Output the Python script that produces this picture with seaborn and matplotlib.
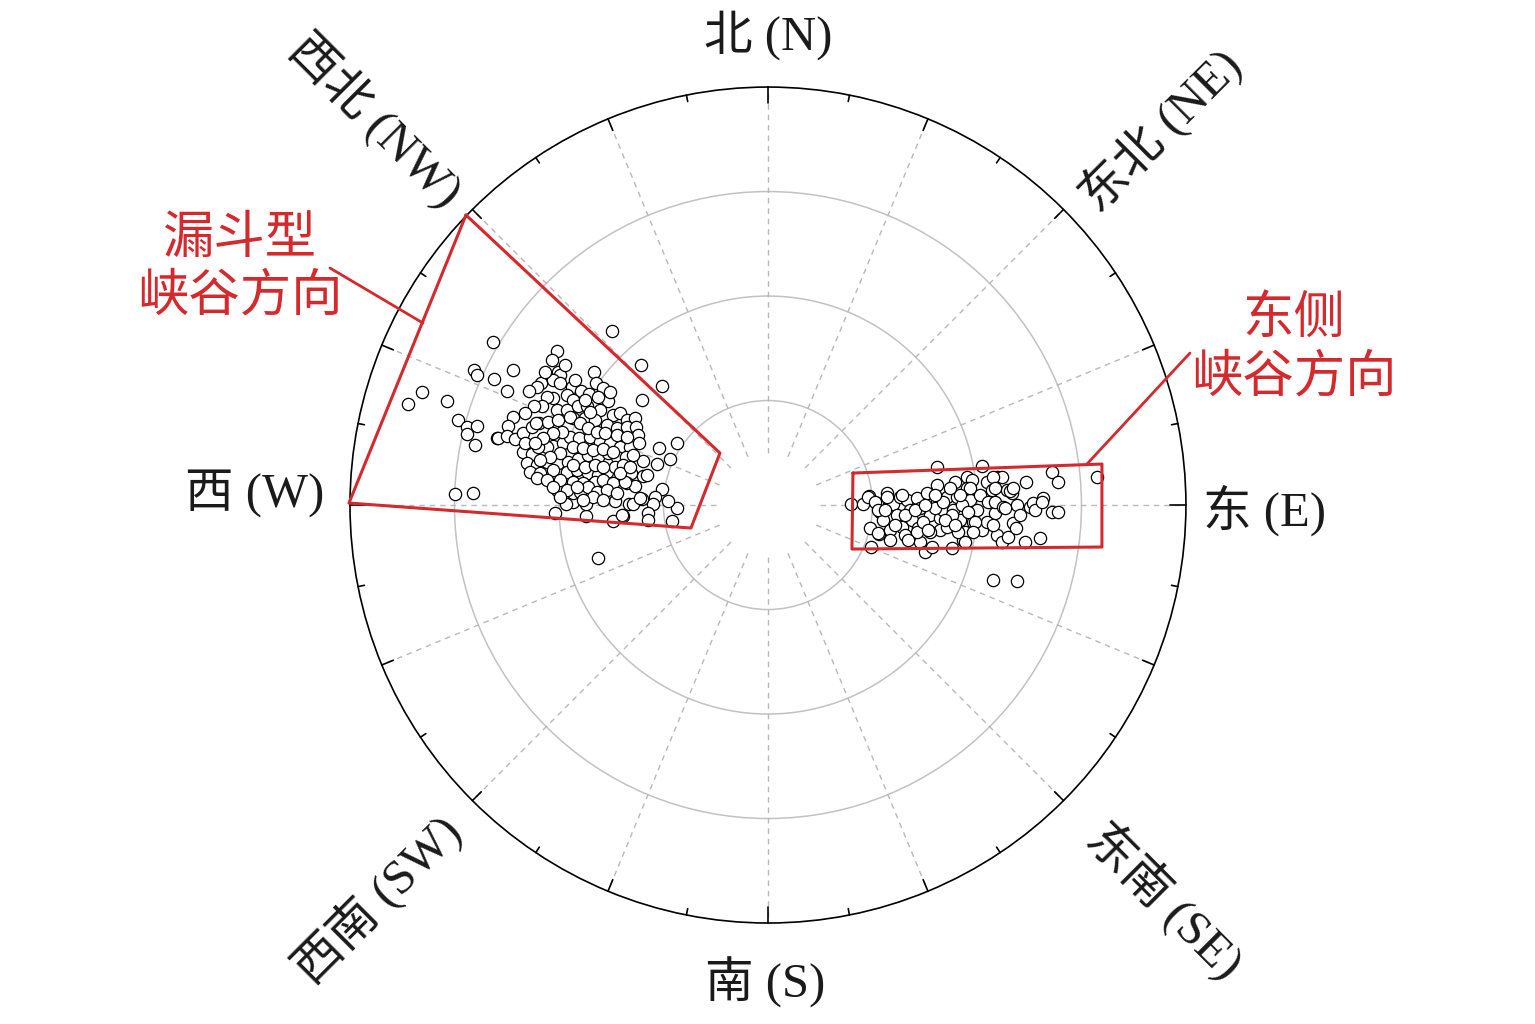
import numpy as np
import matplotlib
matplotlib.use("Agg")
import matplotlib.pyplot as plt
import seaborn as sns

# east / north offsets of each event, outer circle = R_MAX
R_MAX = 41.8

west_pts = [
    (-15.6, 17.4), (-27.5, 16.3), (-12.7, 14.0), (-10.6, 11.9), (-12.6, 10.5),
    (-34.6, 11.3), (-36.0, 10.1), (-32.1, 10.4), (-29.4, 13.5), (-29.1, 13.0),
    (-27.4, 12.6), (-25.5, 13.5), (-26.1, 11.4), (-31.0, 8.5), (-30.1, 7.8),
    (-30.1, 7.1), (-29.1, 7.9), (-29.3, 6.0), (-27.1, 6.7), (-31.3, 1.1),
    (-29.5, 1.2), (-9.1, 6.2), (-10.9, 5.7), (-9.8, 4.6), (-17.0, -5.3),
    (-9.1, -0.3), (-9.6, -1.6), (-10.0, 0.4), (-10.6, 1.6), (-11.3, 0.8),
    (-11.5, 0.1), (-12.0, -0.8), (-12.0, -1.5), (-14.5, -1.1), (-15.5, -1.6),
    (-18.2, -1.1), (-21.3, -0.8), (-18.2, 0.1), (-15.3, 0.4), (-13.9, 0.1),
    (-13.5, 0.1), (-12.6, 0.6), (-12.5, 2.9), (-12.1, 3.0), (-11.1, 4.1),
    (-12.5, 4.4), (-13.7, 3.2), (-14.4, 4.2), (-14.1, 2.2), (-13.3, 1.9),
    (-21.1, 1.5), (-19.5, 0.3), (-19.5, 1.2), (-20.2, 0.1), (-12.8, 0.7),
    (-14.6, -1.0),
    (-21.1, 15.4), (-21.6, 14.5), (-21.0, 13.3), (-20.8, 13.0), (-17.4, 13.3),
    (-22.7, 12.2), (-23.1, 11.8), (-23.9, 11.4), (-21.5, 12.5), (-20.8, 12.2),
    (-19.6, 11.8), (-18.7, 11.4), (-17.9, 11.1), (-17.2, 12.2), (-16.5, 11.7),
    (-16.0, 10.4), (-17.0, 10.8), (-20.1, 11.0), (-19.5, 10.5), (-21.5, 10.7),
    (-22.1, 10.8), (-22.6, 9.9), (-23.4, 9.9), (-24.3, 9.2), (-21.1, 9.5),
    (-20.1, 9.5), (-19.0, 9.9), (-18.1, 9.9), (-16.8, 9.5), (-15.5, 9.0),
    (-14.8, 9.2), (-14.1, 8.5), (-13.3, 8.7), (-25.5, 8.8), (-26.0, 7.9),
    (-27.0, 6.7), (-26.1, 6.9), (-25.3, 6.6), (-24.5, 7.2), (-23.6, 7.8),
    (-22.9, 8.2), (-22.0, 8.3), (-21.0, 8.5), (-19.5, 8.7), (-18.3, 8.7),
    (-17.3, 8.5), (-16.1, 8.0), (-15.1, 7.7), (-14.1, 7.8), (-13.2, 7.8),
    (-24.5, 5.3), (-23.6, 5.1), (-22.5, 5.5), (-21.5, 5.9), (-20.5, 6.2),
    (-19.8, 6.8), (-18.9, 6.7), (-17.8, 6.8), (-16.8, 6.3), (-15.8, 6.2),
    (-14.8, 5.8), (-13.8, 5.8), (-13.0, 7.0), (-12.9, 6.2), (-24.1, 4.2),
    (-23.1, 4.0), (-22.1, 4.3), (-21.0, 4.2), (-20.0, 4.3), (-19.0, 4.6),
    (-18.0, 5.0), (-17.0, 4.8), (-16.0, 5.2), (-15.1, 4.8), (-14.2, 4.8),
    (-13.5, 5.0), (-23.8, 3.3), (-22.8, 3.2), (-21.5, 3.5), (-20.1, 3.3),
    (-19.1, 3.5), (-18.0, 3.2), (-17.0, 3.0), (-16.1, 3.3), (-15.3, 3.8),
    (-14.5, 4.0), (-23.1, 2.7), (-20.8, 2.5), (-19.5, 2.3), (-18.5, 2.2),
    (-17.3, 2.3), (-16.5, 2.5), (-15.5, 2.2), (-14.3, 2.3), (-20.1, 1.5),
    (-18.8, 1.3), (-18.0, 1.8), (-17.1, 1.3), (-16.1, 1.5), (-15.1, 1.2),
    (-23.2, 8.2), (-24.3, 6.2), (-22.3, 5.2), (-22.1, 5.8), (-23.0, 5.8),
    (-19.8, 8.8), (-18.8, 8.2), (-18.0, 7.7), (-17.1, 7.3), (-16.3, 7.2),
    (-15.1, 7.0), (-14.1, 6.8), (-20.6, 7.3), (-21.5, 7.2), (-22.5, 6.7),
    (-23.3, 6.2), (-19.5, 5.8), (-18.5, 5.7), (-17.5, 5.5), (-16.5, 5.6),
    (-15.5, 5.3), (-20.8, 5.2), (-21.8, 4.8), (-22.8, 4.5), (-19.5, 4.0),
    (-18.3, 3.8), (-17.3, 4.0), (-16.5, 3.8), (-14.8, 3.2), (-13.8, 3.8),
    (-22.1, 2.5), (-21.5, 1.8), (-19.1, 1.8), (-17.5, 0.8), (-16.5, 0.5),
    (-20.8, 0.8), (-18.5, 0.5), (-19.3, 12.5), (-18.3, 10.5), (-15.8, 11.3),
    (-20.3, 14.0), (-22.3, 13.3), (-17.8, 9.3),
]

east_pts = [
    (16.9, 3.8), (21.4, 3.9), (8.3, 0.1), (9.5, 0.1), (10.1, 0.9),
    (10.2, -2.3), (10.3, -4.2), (11.1, -2.9), (10.9, 0.2), (11.2, -0.7),
    (11.5, -1.5), (11.9, 1.2), (12.2, 0.3), (12.5, 0.1), (12.9, -1.0),
    (13.2, 0.8), (13.4, -2.2), (13.9, 0.5), (14.2, -0.5), (14.4, -1.5),
    (14.9, 0.7), (15.0, -2.3), (15.2, -3.7), (15.7, -4.7), (15.9, 1.2),
    (16.2, -1.0), (16.4, -4.2), (16.9, 2.0), (16.9, 0.3), (17.2, -1.3),
    (17.2, -2.5), (17.5, -0.5), (17.9, 0.8), (18.4, -4.3), (18.5, -0.5),
    (18.7, 2.3), (18.9, 0.8), (19.2, -1.5), (19.5, -3.5), (19.7, -2.7),
    (19.9, 2.8), (20.0, 1.5), (20.2, 0.5), (20.4, 2.5), (20.5, -1.7),
    (20.9, -0.5), (21.2, 1.0), (21.4, -2.5), (21.9, 2.3), (22.0, 0.3),
    (22.4, 1.5), (22.7, -0.8), (22.9, 2.8), (22.7, 0.3), (22.9, -3.0),
    (23.4, 2.8), (23.4, -3.7), (23.5, -0.2), (23.9, 1.5), (24.0, -3.2),
    (24.4, 1.2), (24.5, -1.8), (24.8, -2.3), (24.9, 0.0), (25.2, -1.0),
    (25.7, -3.7), (25.8, 2.3), (26.2, -0.2), (26.5, 0.2), (26.7, -0.5),
    (27.2, -3.3), (27.5, 0.7), (28.4, 3.3), (28.4, -0.7), (29.0, -0.7),
    (29.0, 2.3), (32.9, 2.8), (22.5, -7.5), (24.9, -7.6),
    (10.0, 0.8), (10.7, 0.3), (11.0, -0.5), (11.0, -2.8), (11.9, 0.8),
    (12.2, -2.5), (13.4, 1.0), (13.7, -3.0), (14.9, -2.7), (15.2, -0.3),
    (15.5, -1.7), (16.2, -2.7), (16.7, -0.3), (17.5, 0.3), (17.9, -2.2),
    (18.4, -1.0), (19.0, -2.7), (19.4, 0.0), (19.9, 1.7), (19.7, -3.7),
    (24.2, 1.4), (24.5, 1.7), (27.4, 0.3), (21.9, -1.7), (22.5, 2.8),
    (22.7, 1.7), (23.7, -0.3), (22.5, -2.0), (20.0, -0.7), (20.7, -1.7),
    (20.5, -2.7), (20.2, 1.7),
    (11.7, -0.5), (12.7, -2.0), (13.7, -1.0), (14.7, -0.5), (15.7, 0.0),
    (16.7, 1.0), (17.7, -1.5), (18.7, -2.0), (19.2, 1.0), (18.2, 1.7),
    (16.0, -2.5), (14.0, -3.5), (12.2, -3.5),
]

funnel_box = [(-30.2, 29.0), (-4.8, 5.2), (-7.7, -2.3), (-41.9, 0.2)]
east_box = [(8.5, 3.2), (33.4, 4.1), (33.4, -4.2), (8.4, -4.4)]
funnel_leader = [(-43.8, 23.7), (-34.5, 18.2)]
east_leader = [(42.2, 15.2), (31.9, 4.1)]

direction_labels = ["北 (N)", "东北 (NE)", "东 (E)", "东南 (SE)",
                    "南 (S)", "西南 (SW)", "西 (W)", "西北 (NW)"]
direction_pos = [(0.0, 47.0), (39.2, 37.5), (49.7, -0.5), (39.7, -39.5),
                 (-0.3, -47.7), (-39.0, -39.5), (-51.3, 1.2), (-39.3, 38.5)]
direction_rot = [0, 45, 0, -45, 0, 45, 0, -45]

notes = ["漏斗型\n峡谷方向", "东侧\n峡谷方向"]
note_pos = [(-52.8, 23.6), (52.6, 15.6)]


def to_polar(pts):
    a = np.asarray(pts, dtype=float)
    return np.arctan2(a[:, 0], a[:, 1]), np.hypot(a[:, 0], a[:, 1])


sns.set_style("white")
plt.rcParams["font.family"] = ["Liberation Serif", "Noto Sans CJK SC", "DejaVu Sans"]

RED = "#d42a2e"

fig = plt.figure(figsize=(15.35, 10.24), dpi=100)
ax = fig.add_axes([0.228, 0.0986, 0.5446, 0.8164], projection="polar")
ax.set_theta_zero_location("N")
ax.set_theta_direction(-1)
ax.set_ylim(0, R_MAX)

# rings
ax.set_rgrids(R_MAX * np.array([0.25, 0.5, 0.75]), labels=[])
ax.yaxis.grid(True, color="#c2c2c2", linewidth=1.1, linestyle="-")
ax.xaxis.grid(False)
ax.set_xticks([])
ax.spines["polar"].set_linewidth(1.2)
ax.spines["polar"].set_color("black")

# dashed spokes and inward ticks
for deg in np.arange(0, 360, 22.5):
    t = np.deg2rad(deg)
    ax.plot([t, t], [R_MAX * 0.125, R_MAX], color="#b8b8b8", lw=1.0,
            ls=(0, (4, 3.5)), zorder=1)
for deg in np.arange(0, 360, 11.25):
    t = np.deg2rad(deg)
    if deg % 90 == 0:
        ln = 1.6
    elif deg % 22.5 == 0:
        ln = 1.25
    else:
        ln = 0.65
    ax.plot([t, t], [R_MAX, R_MAX - ln], color="black", lw=1.2,
            clip_on=False, zorder=2)

# events
for pts in (west_pts, east_pts):
    th, r = to_polar(pts)
    sns.scatterplot(x=th, y=r, ax=ax, s=78, color="white", edgecolor="black",
                    linewidth=0.9, zorder=3, legend=False)
ax.set_xlabel("")
ax.set_ylabel("")

# outlined regions and leaders
for box in (funnel_box, east_box):
    th, r = to_polar(box + box[:1])
    ax.plot(th, r, color=RED, lw=2.2, clip_on=False, zorder=4)
for ld in (funnel_leader, east_leader):
    th, r = to_polar(ld)
    ax.plot(th, r, color=RED, lw=2.0, clip_on=False, zorder=4)

for txt, pos in zip(notes, note_pos):
    th, r = to_polar([pos])
    ax.text(th[0], r[0], txt, color=RED, fontsize=37, ha="center",
            va="center", multialignment="center", linespacing=1.28,
            clip_on=False)

for txt, pos, rot in zip(direction_labels, direction_pos, direction_rot):
    th, r = to_polar([pos])
    ax.text(th[0], r[0], txt, fontsize=35, ha="center", va="center",
            rotation=rot, rotation_mode="anchor", color="#1a1a1a",
            clip_on=False)

fig.savefig("out.png", dpi=100, facecolor="white")
